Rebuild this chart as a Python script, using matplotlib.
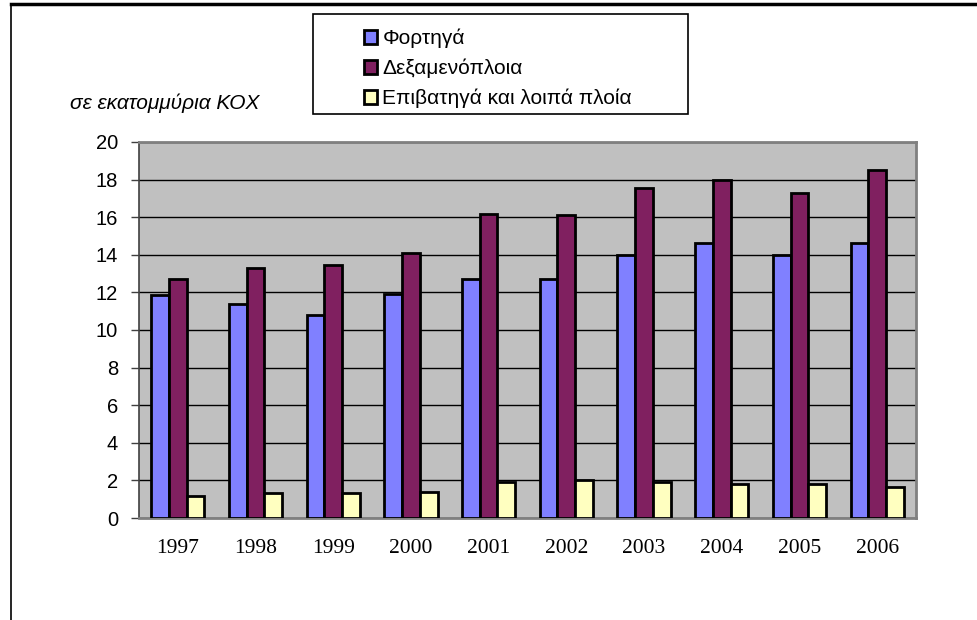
# Ετήσιες ποσότητες ανά τύπο πλοίου, σε εκατομμύρια ΚΟΧ
import numpy as np
import matplotlib.pyplot as plt
from matplotlib.patches import Rectangle
from matplotlib.lines import Line2D

years = ['1997', '1998', '1999', '2000', '2001', '2002', '2003', '2004', '2005', '2006']
fortiga = [11.86, 11.37, 10.78, 11.92, 12.70, 12.72, 14.01, 14.62, 14.01, 14.65]
dexamenoploia = [12.70, 13.29, 13.48, 14.10, 16.18, 16.11, 17.53, 17.96, 17.28, 18.49]
epivatiga = [1.17, 1.33, 1.33, 1.37, 1.94, 2.01, 1.90, 1.80, 1.80, 1.65]
labels = ['Φορτηγά', 'Δεξαμενόπλοια', 'Επιβατηγά και λοιπά πλοία']
colors = ['#8080FF', '#802060', '#FFFFC0']

plt.rcParams['font.family'] = ['Liberation Sans', 'DejaVu Sans']


def plotting():
    fig = plt.figure(figsize=(9.78, 6.2), dpi=100)
    ax = fig.add_axes([0.1421, 0.1645, 0.7945, 0.6065])
    ax.set_facecolor('#C0C0C0')

    x = np.arange(len(years))
    w = 0.228
    series = [fortiga, dexamenoploia, epivatiga]
    for i, vals in enumerate(series):
        ax.bar(x + (i - 1) * w, vals, w, color=colors[i], edgecolor='black',
               linewidth=2, label=labels[i], zorder=3)

    ax.set_xlim(-0.5, len(years) - 0.5)
    ax.set_ylim(0, 20)
    ax.set_yticks(range(0, 21, 2))
    ax.yaxis.grid(True, color='black', linewidth=1, zorder=1)
    ax.set_axisbelow(True)
    ax.tick_params(axis='y', labelsize=14.5, length=6, width=1, color='#404040', pad=9)
    ax.set_xticks(x)
    ax.set_xticklabels(years, fontfamily='Liberation Serif', fontsize=15.5)
    ax.tick_params(axis='x', length=0, pad=15)
    for side in ['top', 'right', 'bottom']:
        ax.spines[side].set_color('#808080')
        ax.spines[side].set_linewidth(2)
    ax.spines['left'].set_color('#404040')
    ax.spines['left'].set_linewidth(1.2)

    fig.text(70 / 978, 1 - 103 / 620, 'σε εκατομμύρια ΚΟΧ', fontsize=15,
             style='italic', va='center', ha='left')

    # πλαίσιο υπομνήματος
    fig.add_artist(Rectangle((313 / 978, 1 - 114 / 620), 375 / 978, 100 / 620,
                             transform=fig.transFigure, facecolor='white',
                             edgecolor='black', linewidth=1.2))
    handles, labs = ax.get_legend_handles_labels()
    fig.legend(handles, labs, loc='upper left', bbox_to_anchor=(347 / 978, 1 - 12 / 620),
               frameon=False, fontsize=15, handlelength=0.65, handleheight=0.65,
               handletextpad=0.25, labelspacing=0.5, borderpad=0.3)

    # εξωτερικό πλαίσιο
    fig.add_artist(Line2D([11 / 978, 1.0], [1 - 4 / 620, 1 - 4 / 620],
                          transform=fig.transFigure, color='black', linewidth=2.5))
    fig.add_artist(Line2D([11 / 978, 11 / 978], [0, 1 - 4 / 620],
                          transform=fig.transFigure, color='black', linewidth=1.2))

    plt.savefig('out.png', dpi=100)
    plt.clf()


plotting()
